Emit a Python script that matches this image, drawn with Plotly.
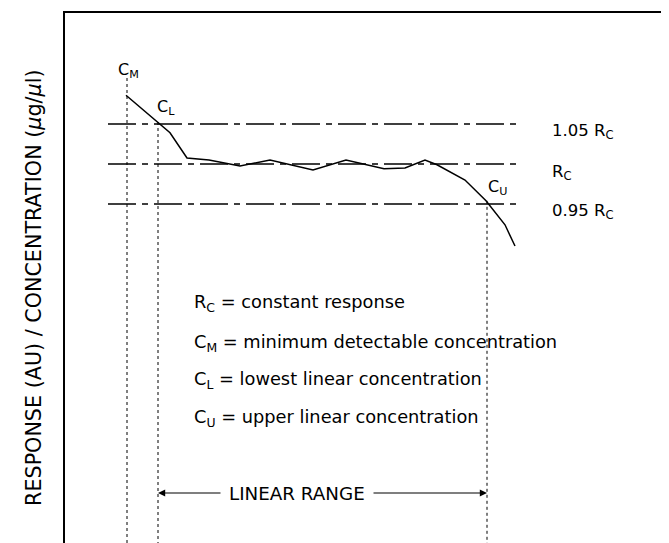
import plotly.graph_objects as go

# Response/concentration curve (concentration in arbitrary units, response relative to Rc)
conc = [1.525, 2.325, 2.625, 3.05, 3.6, 4.375, 5.125, 6.2, 7.025, 7.975, 8.5, 9.0, 9.3, 10.0, 10.525, 11.0, 11.25]
resp = [1.086, 1.0525, 1.039, 1.0075, 1.005, 0.9975, 1.005, 0.9925, 1.005, 0.994, 0.995, 1.005, 0.999, 0.98, 0.954, 0.924, 0.8975]

# Reference levels
levels = [1.05, 1.0, 0.95]
level_labels = ["1.05 R<sub>C</sub>", "R<sub>C</sub>", "0.95 R<sub>C</sub>"]
level_label_y = [1.041, 0.989, 0.941]
level_x = [1.075, 11.425]

# Characteristic concentrations
c_names = ["C<sub>M</sub>", "C<sub>L</sub>", "C<sub>U</sub>"]
c_x = [1.55, 2.325, 10.55]
c_top = [1.1075, 1.0525, 0.954]
c_label_x = [1.575, 2.525, 10.8]
c_label_y = [1.1175, 1.071, 0.971]

legend_lines = [
    "R<sub>C</sub> = constant response",
    "C<sub>M</sub> = minimum detectable concentration",
    "C<sub>L</sub> = lowest linear concentration",
    "C<sub>U</sub> = upper linear concentration",
]
legend_y = [0.826, 0.776, 0.73, 0.6825]
legend_x = 3.175

x_range = [0, 15.3]
y_range = [0.51625, 1.18875]
y_bottom = y_range[0]

FONT = "DejaVu Sans, Liberation Sans, Arial, sans-serif"

fig = go.Figure()

# Reference level lines
for lv in levels:
    fig.add_trace(go.Scatter(x=level_x, y=[lv, lv], mode="lines",
                             line=dict(color="black", width=1.4, dash="28px,6px,6px,6px"),
                             hoverinfo="skip", showlegend=False))

# Vertical dotted markers
for cx, ct in zip(c_x, c_top):
    fig.add_trace(go.Scatter(x=[cx, cx], y=[ct, y_bottom], mode="lines",
                             line=dict(color="black", width=1, dash="3px,3px"),
                             hoverinfo="skip", showlegend=False))

# Response curve
fig.add_trace(go.Scatter(x=conc, y=resp, mode="lines",
                         line=dict(color="black", width=1.5),
                         hoverinfo="skip", showlegend=False))

annotations = []
for name, lx, ly in zip(c_names, c_label_x, c_label_y):
    annotations.append(dict(x=lx, y=ly, xref="x", yref="y", text=name, showarrow=False,
                            font=dict(size=16, color="black", family=FONT)))
for lab, ly in zip(level_labels, level_label_y):
    annotations.append(dict(x=12.125, y=ly, xref="x", yref="y", text=lab, showarrow=False,
                            xanchor="left", font=dict(size=16.5, color="black", family=FONT)))
for txt, ly in zip(legend_lines, legend_y):
    annotations.append(dict(x=legend_x, y=ly, xref="x", yref="y", text=txt, showarrow=False,
                            xanchor="left", font=dict(size=17.8, color="black", family=FONT)))

# Linear range arrows
range_y = 0.58875
annotations.append(dict(x=5.79, y=range_y, xref="x", yref="y", text="LINEAR RANGE",
                        showarrow=False, font=dict(size=18.3, color="black", family=FONT)))
annotations.append(dict(x=c_x[1], y=range_y, ax=3.925, ay=range_y, xref="x", yref="y",
                        axref="x", ayref="y", text="", showarrow=True, arrowhead=2,
                        arrowsize=1.2, arrowwidth=1.2, arrowcolor="black"))
annotations.append(dict(x=c_x[2], y=range_y, ax=7.675, ay=range_y, xref="x", yref="y",
                        axref="x", ayref="y", text="", showarrow=True, arrowhead=2,
                        arrowsize=1.2, arrowwidth=1.2, arrowcolor="black"))

# Y axis title
annotations.append(dict(x=-0.0735, y=0.489, xref="paper", yref="paper",
                        text="RESPONSE (AU) / CONCENTRATION (<i>μ</i>g/<i>μ</i>l)",
                        textangle=-90, showarrow=False,
                        font=dict(size=20.7, color="black", family=FONT)))

fig.update_layout(
    width=669, height=543,
    margin=dict(l=57, r=0, t=5, b=0),
    paper_bgcolor="white", plot_bgcolor="white",
    annotations=annotations,
    xaxis=dict(range=x_range, side="top", showline=True, linecolor="black", linewidth=1.5,
               showgrid=False, zeroline=False, showticklabels=False, ticks=""),
    yaxis=dict(range=y_range, showline=True, linecolor="black", linewidth=1.5,
               showgrid=False, zeroline=False, showticklabels=False, ticks=""),
)

fig.write_html("out.html")
